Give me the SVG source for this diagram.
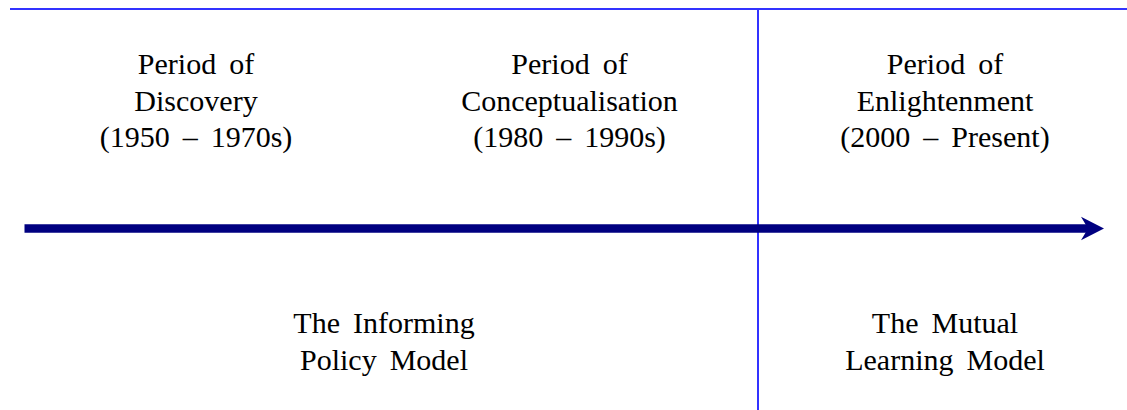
<svg xmlns="http://www.w3.org/2000/svg" width="1127" height="410" viewBox="0 0 1127 410">
<style>
.t{font-size:30px;fill:#000;text-anchor:middle;word-spacing:5.5px}
.ln{stroke:#3333FF;stroke-width:2;fill:none}
</style>
<rect width="1127" height="410" fill="#fff"/>
<g id="connectors">
<line class="ln" x1="10" y1="9" x2="1127" y2="9"/>
<line class="ln" x1="758" y1="9" x2="758" y2="410"/>
<line x1="24.5" y1="228.5" x2="1090" y2="228.5" stroke="#000080" stroke-width="8.5"/>
<polygon points="1104,228.5 1081,216.7 1088,228.5 1081,240.3" fill="#000080"/>
</g>
<g font-family="Liberation Serif, Times New Roman, Times, serif">
<g id="discovery">
<text class="t" x="196" y="74">Period of</text>
<text class="t" x="196" y="111">Discovery</text>
<text class="t" x="196" y="147">(1950 – 1970s)</text>
</g>
<g id="conceptualisation">
<text class="t" x="569.5" y="74">Period of</text>
<text class="t" x="569.5" y="111">Conceptualisation</text>
<text class="t" x="569.5" y="147">(1980 – 1990s)</text>
</g>
<g id="enlightenment">
<text class="t" x="945" y="74">Period of</text>
<text class="t" x="945" y="111">Enlightenment</text>
<text class="t" x="945" y="147">(2000 – Present)</text>
</g>
<g id="informing">
<text class="t" x="384" y="333">The Informing</text>
<text class="t" x="384" y="370">Policy Model</text>
</g>
<g id="mutual">
<text class="t" x="945" y="333">The Mutual</text>
<text class="t" x="945" y="370">Learning Model</text>
</g>
</g>
</svg>
